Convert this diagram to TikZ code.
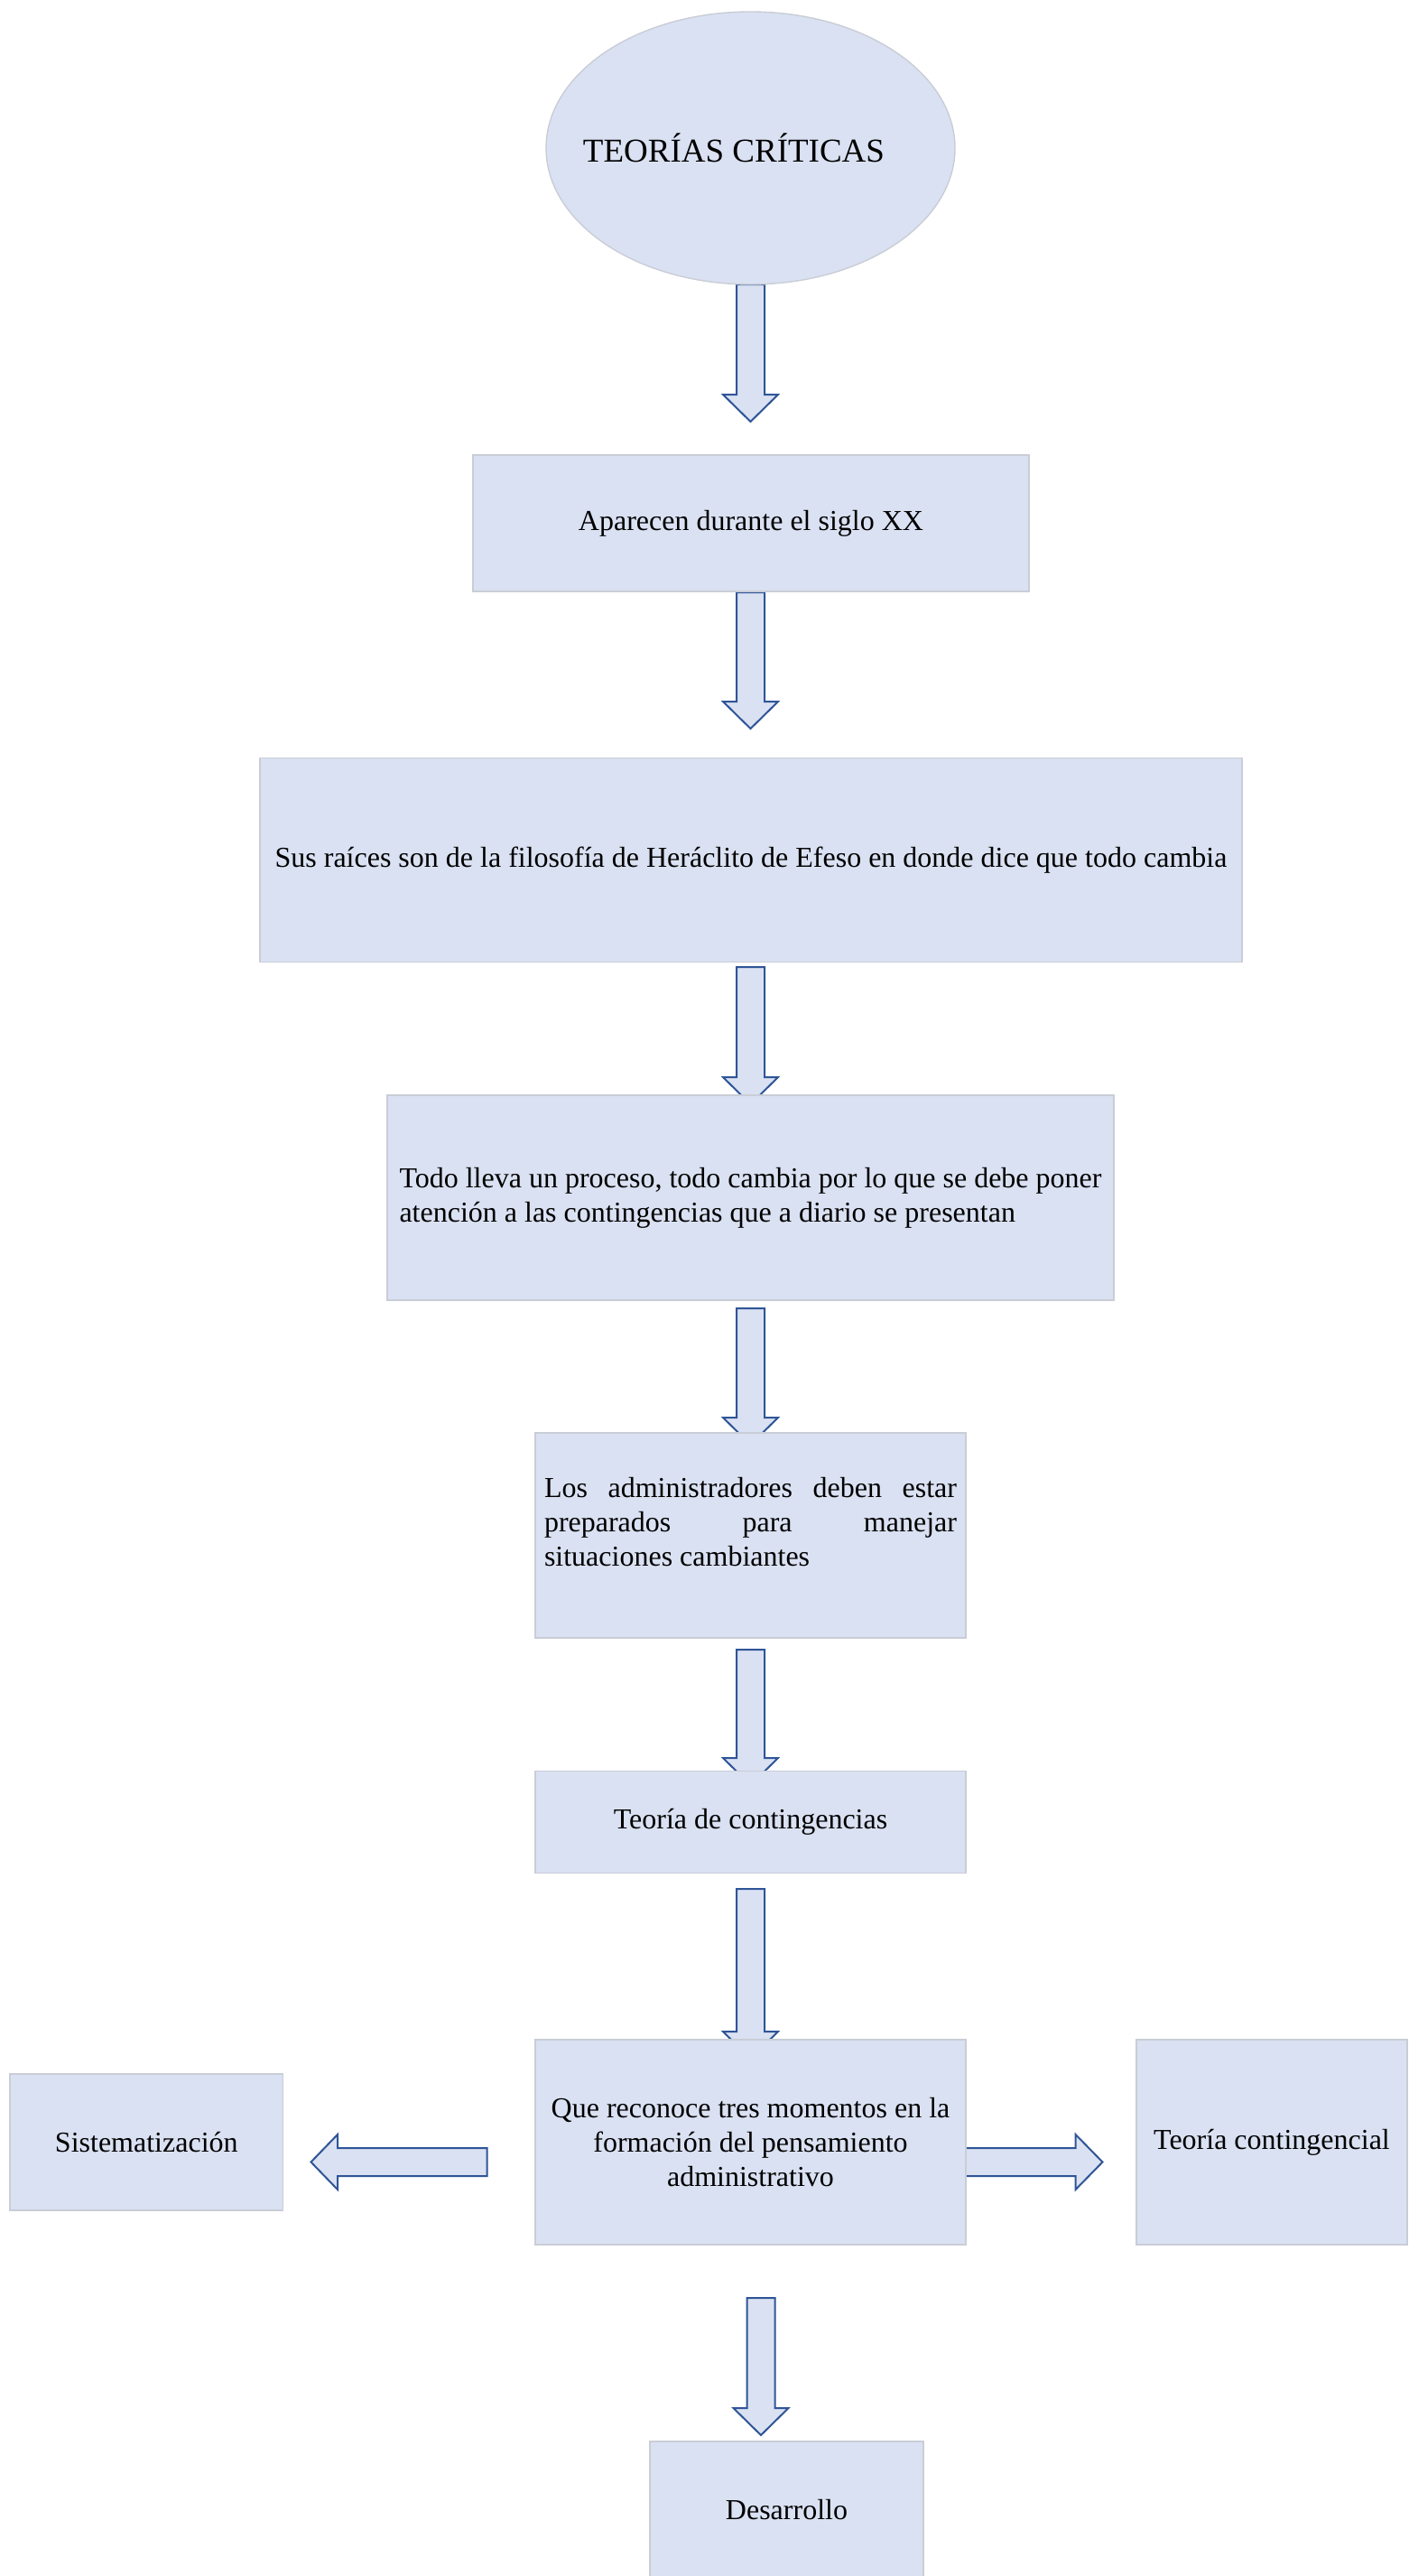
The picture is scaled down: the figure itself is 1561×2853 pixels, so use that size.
\documentclass[tikz,border=0pt]{standalone}
\usepackage{fontspec}
\setmainfont{Liberation Serif}
\usetikzlibrary{shapes.geometric}
\definecolor{boxfill}{HTML}{DAE1F2}
\definecolor{boxline}{HTML}{C9CDD6}
\definecolor{arrline}{HTML}{2F5597}
\tikzset{
  box/.style={rectangle, draw=boxline, fill=boxfill, line width=0.7pt, inner sep=0pt,
    font=\fontsize{16pt}{19pt}\selectfont},
  oval/.style={ellipse, draw=boxline, fill=boxfill, line width=0.7pt, inner sep=0pt,
    font=\fontsize{18.5pt}{22pt}\selectfont},
  barrow/.style={draw=arrline, fill=boxfill, line width=1pt, line join=miter}
}
\newcommand\varrowshape[4]{%
  \draw[barrow] ({#1-15.5},#2) -- ({#1+15.5},#2) -- ({#1+15.5},#3) -- ({#1+30.5},#3)
    -- (#1,#4) -- ({#1-30.5},#3) -- ({#1-15.5},#3) -- cycle;}
\begin{document}
\begin{tikzpicture}[x=0.5pt,y=-0.5pt]
\useasboundingbox (0,0) rectangle (1561,2853);
% arrows (drawn first, boxes cover their heads)
\varrowshape{831.5}{315}{437}{467}
\varrowshape{831.5}{656}{777}{807}
\varrowshape{831.5}{1071}{1193}{1223}
\varrowshape{831.5}{1449}{1570}{1600}
\varrowshape{831.5}{1827}{1947}{1977}
\varrowshape{831.5}{2092}{2250}{2280}
\varrowshape{843}{2545}{2667}{2697}
% left arrow
\draw[barrow] (539.6,2379) -- (374,2379) -- (374,2364) -- (344.5,2394.5)
  -- (374,2425) -- (374,2410) -- (539.6,2410) -- cycle;
% right arrow
\draw[barrow] (1068,2379) -- (1191.6,2379) -- (1191.6,2364) -- (1221.5,2394.5)
  -- (1191.6,2425) -- (1191.6,2410) -- (1068,2410) -- cycle;
% nodes
\node[oval, minimum width=226.5pt, minimum height=151pt] (e) at (831.5,164)
  {\makebox[0pt]{TEORÍAS CRÍTICAS\hspace*{18.5pt}}};
\node[box, minimum width=308pt, minimum height=75.5pt] (n1) at (832,579.5)
  {Aparecen durante el siglo XX};
\node[box, minimum width=544pt, minimum height=113pt] (n2) at (832,952.6)
  {Sus raíces son de la filosofía de Heráclito de Efeso en donde dice que todo cambia};
\node[box, minimum width=402.5pt, minimum height=113.5pt, align=left] (n3) at (831.5,1326.5)
  {Todo lleva un proceso, todo cambia por lo que se debe poner\\atención a las contingencias que a diario se presentan};
\node[box, minimum width=238.5pt, minimum height=113.5pt, text width=228.5pt, align=justify] (n4) at (831.5,1700.5)
  {Los administradores deben estar\linebreak preparados para manejar\linebreak situaciones cambiantes\\[-4pt]\mbox{}};
\node[box, minimum width=238.5pt, minimum height=56.75pt] (n5) at (831.5,2018)
  {Teoría de contingencias};
\node[box, minimum width=238.5pt, minimum height=113.5pt, align=center] (n6) at (831.5,2372.5)
  {Que reconoce tres momentos en la\\formación del pensamiento\\administrativo};
\node[box, minimum width=151.3pt, minimum height=75.5pt] (n7) at (162.3,2372.5)
  {Sistematización};
\node[box, minimum width=150pt, minimum height=113.5pt] (n8) at (1409,2372.5)
  {Teoría contingencial};
\node[box, minimum width=151.5pt, minimum height=75.5pt] (n9) at (871.5,2779.5)
  {Desarrollo};
\end{tikzpicture}
\end{document}
